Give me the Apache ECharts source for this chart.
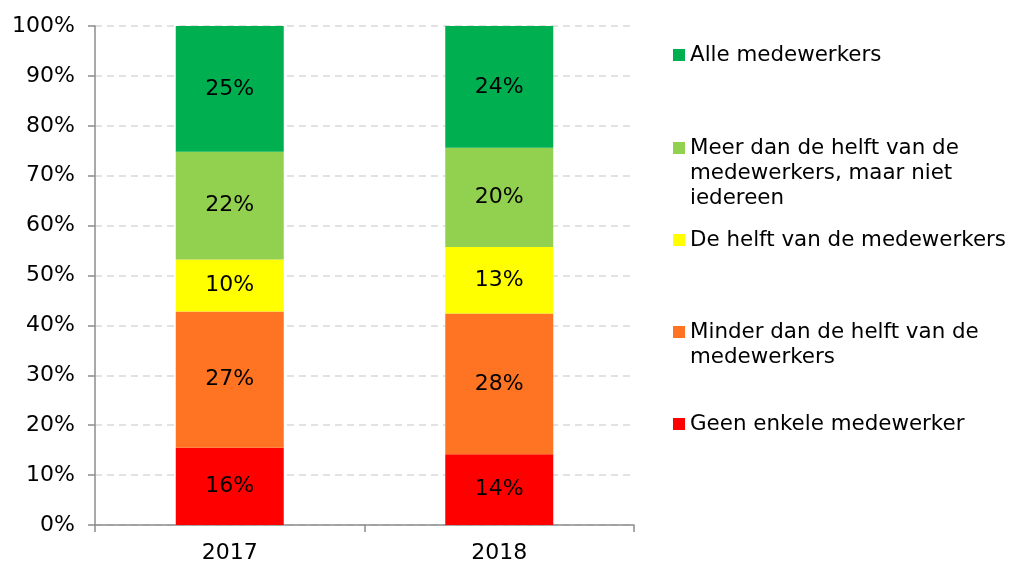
<!DOCTYPE html>
<html>
<head>
<meta charset="utf-8">
<script src="https://cdn.jsdelivr.net/npm/echarts@6/dist/echarts.min.js"></script>
<style>html,body{margin:0;padding:0;background:#fff;}#c{width:1009px;height:563px;}</style>
</head>
<body>
<div id="c"></div>
<script>
var categories = ['2017', '2018'];
var geenEnkele = [15.5, 14.2];
var minderDanHelft = [27.3, 28.2];
var deHelft = [10.4, 13.3];
var meerDanHelft = [21.6, 19.9];
var alleMedewerkers = [25.2, 24.4];
var yTicks = [0, 10, 20, 30, 40, 50, 60, 70, 80, 90, 100];

var seriesNames = [
  'Geen enkele medewerker',
  'Minder dan de helft van de\nmedewerkers',
  'De helft van de medewerkers',
  'Meer dan de helft van de\nmedewerkers, maar niet\niedereen',
  'Alle medewerkers'
];
var seriesData = [geenEnkele, minderDanHelft, deHelft, meerDanHelft, alleMedewerkers];
var colors = ['#ff0000', '#ff7422', '#ffff00', '#92d050', '#00b050'];

var FONT = 'DejaVu Sans';
var FS = 22;
var LFS = 21.4;
var LH = 25;

var series = seriesNames.map(function (n, i) {
  return {
    name: n,
    type: 'bar',
    stack: 'total',
    barWidth: 108,
    data: seriesData[i],
    itemStyle: { color: colors[i] },
    label: {
      show: true,
      position: 'inside',
      color: '#000',
      fontFamily: FONT,
      fontSize: FS,
      formatter: function (p) { return Math.round(p.value) + '%'; }
    }
  };
});

// legend item icon centers (y) in the reference
var legendCenters = [424, 332, 240, 148, 55];
var legends = seriesNames.map(function (n, i) {
  var lines = n.split('\n').length;
  var h = (2 * lines - 1) * LH;
  return {
    orient: 'vertical',
    left: 673,
    top: legendCenters[i] - h / 2,
    padding: 0,
    itemWidth: 12,
    itemHeight: 12,
    itemGap: 5,
    icon: 'rect',
    selectedMode: false,
    data: [n],
    formatter: function (name) {
      var pre = '';
      for (var k = 1; k < lines; k++) pre += '\n';
      return pre + name;
    },
    textStyle: {
      fontFamily: FONT,
      fontSize: LFS,
      color: '#000',
      lineHeight: LH
    }
  };
});

var option = {
  backgroundColor: '#fff',
  animation: false,
  grid: { left: 95, right: 375, top: 26, bottom: 38, containLabel: false, outerBoundsMode: 'none' },
  legend: legends,
  xAxis: {
    type: 'category',
    data: categories,
    axisLine: { lineStyle: { color: '#8c8c8c', width: 1.5 } },
    axisTick: { show: true, length: 7, lineStyle: { color: '#8c8c8c', width: 1.5 } },
    axisLabel: { color: '#000', fontFamily: FONT, fontSize: FS, margin: 17 }
  },
  yAxis: {
    type: 'value',
    min: yTicks[0],
    max: yTicks[yTicks.length - 1],
    interval: 10,
    axisLine: { show: true, lineStyle: { color: '#8c8c8c', width: 1.5 } },
    axisTick: { show: true, length: 7, lineStyle: { color: '#8c8c8c', width: 1.5 } },
    axisLabel: { color: '#000', fontFamily: FONT, fontSize: FS, margin: 20,
      formatter: function (v) { return v + '%'; } },
    splitLine: { show: true, lineStyle: { color: '#d9d9d9', width: 1.5, type: [7, 5] } }
  },
  series: series
};

var chart = echarts.init(document.getElementById('c'), null, { renderer: 'canvas' });
chart.setOption(option);
</script>
</body>
</html>
